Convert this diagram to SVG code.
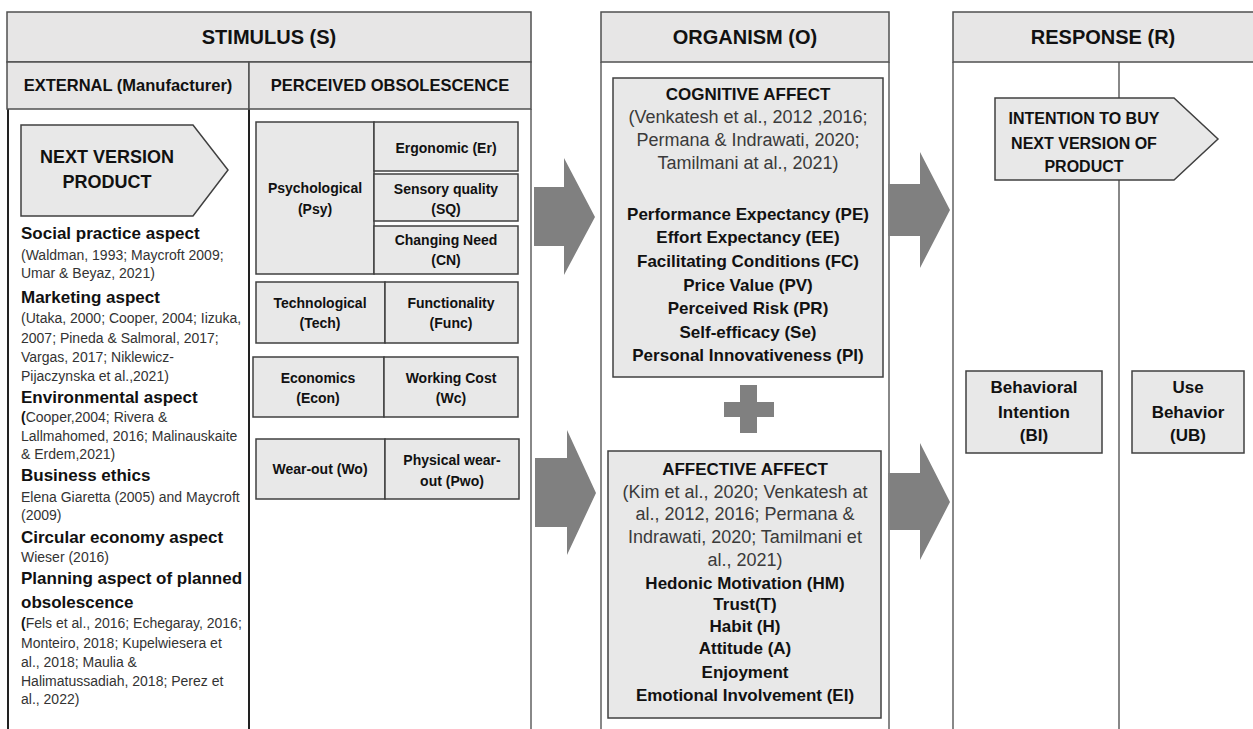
<svg xmlns="http://www.w3.org/2000/svg" width="1253" height="729" viewBox="0 0 1253 729">
<style>
text{font-family:"Liberation Sans",Arial,sans-serif;fill:#111}
.hdr{fill:#e7e6e6;stroke:#505050;stroke-width:1.5}
.box{fill:#e8e8e8;stroke:#404040;stroke-width:1.5}
.col{stroke:#606060;stroke-width:1.5;fill:none}
.colk{stroke:#222;stroke-width:2;fill:none}
.arr{fill:#808080}
.h1{font-size:20px;font-weight:bold;text-anchor:middle}
.h2{font-size:16.5px;font-weight:bold;text-anchor:middle}
.lh{font-size:17px;font-weight:bold}
.lc{font-size:14px;fill:#333}
.sb{font-size:14px;font-weight:bold;text-anchor:middle}
.ob{font-size:17px;font-weight:bold;text-anchor:middle}
.oc{font-size:18px;fill:#3a3a3a;text-anchor:middle}
.rb{font-size:16px;font-weight:bold;text-anchor:middle}
</style>

<g id="columns">
<line class="colk" x1="8" y1="109" x2="8" y2="729"/>
<line class="colk" x1="249" y1="109" x2="249" y2="729"/>
<line class="col" x1="531" y1="109" x2="531" y2="729"/>
<line class="col" x1="601" y1="62" x2="601" y2="729"/>
<line class="col" x1="889" y1="62" x2="889" y2="729"/>
<line class="col" x1="953" y1="62" x2="953" y2="729"/>
<line class="col" x1="1119" y1="62" x2="1119" y2="729"/>
</g>

<g id="stimulus-header">
<rect class="hdr" x="7" y="12" width="524" height="50"/>
<text class="h1" x="269" y="44">STIMULUS (S)</text>
</g>
<g id="external-header">
<rect class="hdr" x="7" y="62" width="242" height="47"/>
<text class="h2" x="128" y="91">EXTERNAL (Manufacturer)</text>
</g>
<g id="perceived-header">
<rect class="hdr" x="249" y="62" width="282" height="47"/>
<text class="h2" x="390" y="91">PERCEIVED  OBSOLESCENCE</text>
</g>
<g id="organism-header">
<rect class="hdr" x="601" y="12" width="288" height="50"/>
<text class="h1" x="745" y="44">ORGANISM (O)</text>
</g>
<g id="response-header">
<rect class="hdr" x="953" y="12" width="305" height="50"/>
<text class="h1" x="1103" y="44">RESPONSE (R)</text>
</g>

<g id="next-version-product">
<polygon class="box" points="21,125 193,125 228,170 193,216 21,216"/>
<text class="h2" style="font-size:18px" x="107" y="163">NEXT VERSION</text>
<text class="h2" style="font-size:18px" x="107" y="188">PRODUCT</text>
</g>

<g id="external-text">
<text class="lh" x="21" y="239">Social practice aspect</text>
<text class="lc" x="21" y="260">(Waldman, 1993; Maycroft 2009;</text>
<text class="lc" x="21" y="278">Umar &amp; Beyaz, 2021)</text>
<text class="lh" x="21" y="303">Marketing aspect</text>
<text class="lc" x="21" y="323">(Utaka, 2000;  Cooper, 2004; Iizuka,</text>
<text class="lc" x="21" y="343">2007;  Pineda &amp; Salmoral, 2017;</text>
<text class="lc" x="21" y="362">Vargas, 2017;  Niklewicz-</text>
<text class="lc" x="21" y="381">Pijaczynska et al.,2021)</text>
<text class="lh" x="21" y="403">Environmental aspect</text>
<text class="lc" x="21" y="422"><tspan font-weight="bold" fill="#111">(</tspan>Cooper,2004; Rivera &amp;</text>
<text class="lc" x="21" y="441">Lallmahomed, 2016; Malinauskaite</text>
<text class="lc" x="21" y="459">&amp; Erdem,2021)</text>
<text class="lh" x="21" y="481">Business ethics</text>
<text class="lc" x="21" y="502">Elena Giaretta (2005)  and Maycroft</text>
<text class="lc" x="21" y="520">(2009)</text>
<text class="lh" x="21" y="543">Circular economy aspect</text>
<text class="lc" x="21" y="562">Wieser (2016)</text>
<text class="lh" x="21" y="584">Planning aspect of planned</text>
<text class="lh" x="21" y="608">obsolescence</text>
<text class="lc" x="21" y="628"><tspan font-weight="bold" fill="#111">(</tspan>Fels et al., 2016;  Echegaray, 2016;</text>
<text class="lc" x="21" y="648">Monteiro, 2018; Kupelwiesera et</text>
<text class="lc" x="21" y="667">al., 2018;  Maulia &amp;</text>
<text class="lc" x="21" y="686">Halimatussadiah, 2018; Perez et</text>
<text class="lc" x="21" y="704">al., 2022)</text>
</g>

<g id="psychological">
<rect class="box" x="256" y="122" width="118" height="152"/>
<text class="sb" x="315" y="193">Psychological</text>
<text class="sb" x="315" y="214">(Psy)</text>
</g>
<g id="ergonomic">
<rect class="box" x="374" y="122" width="144" height="49"/>
<text class="sb" x="446" y="153">Ergonomic (Er)</text>
</g>
<g id="sensory-quality">
<rect class="box" x="374" y="174" width="144" height="47"/>
<text class="sb" x="446" y="194">Sensory quality</text>
<text class="sb" x="446" y="214">(SQ)</text>
</g>
<g id="changing-need">
<rect class="box" x="374" y="226" width="144" height="48"/>
<text class="sb" x="446" y="245">Changing Need</text>
<text class="sb" x="446" y="265">(CN)</text>
</g>
<g id="technological">
<rect class="box" x="256" y="282" width="129" height="61"/>
<text class="sb" x="320" y="308">Technological</text>
<text class="sb" x="320" y="328">(Tech)</text>
</g>
<g id="functionality">
<rect class="box" x="385" y="282" width="133" height="61"/>
<text class="sb" x="451" y="308">Functionality</text>
<text class="sb" x="451" y="328">(Func)</text>
</g>
<g id="economics">
<rect class="box" x="253" y="357" width="131" height="60"/>
<text class="sb" x="318" y="383">Economics</text>
<text class="sb" x="318" y="403">(Econ)</text>
</g>
<g id="working-cost">
<rect class="box" x="384" y="357" width="134" height="60"/>
<text class="sb" x="451" y="383">Working Cost</text>
<text class="sb" x="451" y="403">(Wc)</text>
</g>
<g id="wear-out">
<rect class="box" x="256" y="439" width="129" height="60"/>
<text class="sb" x="320" y="474">Wear-out (Wo)</text>
</g>
<g id="physical-wear-out">
<rect class="box" x="385" y="439" width="134" height="60"/>
<text class="sb" x="452" y="465">Physical wear-</text>
<text class="sb" x="452" y="486">out (Pwo)</text>
</g>

<g id="cognitive-affect">
<rect class="box" x="613" y="78" width="270" height="299"/>
<text class="ob" x="748" y="100">COGNITIVE AFFECT</text>
<text class="oc" x="748" y="123">(Venkatesh et al., 2012 ,2016;</text>
<text class="oc" x="748" y="146">Permana &amp; Indrawati, 2020;</text>
<text class="oc" x="748" y="169">Tamilmani at al., 2021)</text>
<text class="ob" x="748" y="220">Performance Expectancy (PE)</text>
<text class="ob" x="748" y="243">Effort Expectancy (EE)</text>
<text class="ob" x="748" y="267">Facilitating Conditions (FC)</text>
<text class="ob" x="748" y="291">Price Value (PV)</text>
<text class="ob" x="748" y="314">Perceived Risk (PR)</text>
<text class="ob" x="748" y="338">Self-efficacy (Se)</text>
<text class="ob" x="748" y="361">Personal Innovativeness (PI)</text>
</g>

<g id="plus">
<rect class="arr" x="740" y="385" width="17" height="48"/>
<rect class="arr" x="724" y="402" width="50" height="15"/>
</g>

<g id="affective-affect">
<rect class="box" x="608" y="451" width="273" height="267"/>
<text class="ob" x="745" y="475">AFFECTIVE AFFECT</text>
<text class="oc" x="745" y="498">(Kim et al., 2020; Venkatesh at</text>
<text class="oc" x="745" y="520">al., 2012, 2016; Permana &amp;</text>
<text class="oc" x="745" y="543">Indrawati, 2020; Tamilmani et</text>
<text class="oc" x="745" y="566">al., 2021)</text>
<text class="ob" x="745" y="589">Hedonic Motivation (HM)</text>
<text class="ob" x="745" y="610">Trust(T)</text>
<text class="ob" x="745" y="632">Habit (H)</text>
<text class="ob" x="745" y="654">Attitude (A)</text>
<text class="ob" x="745" y="678">Enjoyment</text>
<text class="ob" x="745" y="701">Emotional Involvement (EI)</text>
</g>

<g id="intention-to-buy">
<polygon class="box" points="995,98 1174,98 1218,139 1174,180 995,180"/>
<text class="rb" x="1084" y="124">INTENTION TO BUY</text>
<text class="rb" x="1084" y="149">NEXT VERSION OF</text>
<text class="rb" x="1084" y="172">PRODUCT</text>
</g>
<g id="behavioral-intention">
<rect class="box" x="966" y="371" width="136" height="82"/>
<text class="ob" x="1034" y="393">Behavioral</text>
<text class="ob" x="1034" y="418">Intention</text>
<text class="ob" x="1034" y="441">(BI)</text>
</g>
<g id="use-behavior">
<rect class="box" x="1132" y="371" width="112" height="82"/>
<text class="ob" x="1188" y="393">Use</text>
<text class="ob" x="1188" y="418">Behavior</text>
<text class="ob" x="1188" y="441">(UB)</text>
</g>

<g id="connectors">
<polygon class="arr" points="534,187 564,187 564,158 595,217 564,275 564,246 534,246"/>
<polygon class="arr" points="535,458 567,458 567,430 596,493 567,555 567,527 535,527"/>
<polygon class="arr" points="888,184 920,184 920,152 950,210 920,268 920,236 888,236"/>
<polygon class="arr" points="888,473 920,473 920,443 950,502 920,560 920,530 888,530"/>
</g>
</svg>
